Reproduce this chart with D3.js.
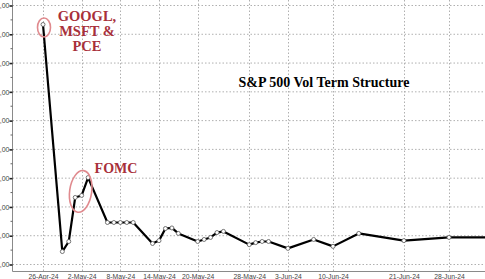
<!DOCTYPE html>
<html>
<head>
<meta charset="utf-8">
<script src="https://cdn.jsdelivr.net/npm/d3@7"></script>
<style>
  body { margin: 0; background: #fff; }
  svg { display: block; }
</style>
</head>
<body>
<div id="chart"></div>
<script>
/* global d3 */

// expiry dates (UTC) and the vol read at each
var expiries = [
  '2024-04-26', '2024-04-29', '2024-04-30', '2024-05-01', '2024-05-02', '2024-05-03',
  '2024-05-06', '2024-05-07', '2024-05-08', '2024-05-09', '2024-05-10',
  '2024-05-13', '2024-05-14', '2024-05-15', '2024-05-16', '2024-05-17',
  '2024-05-20', '2024-05-21', '2024-05-22', '2024-05-23', '2024-05-24',
  '2024-05-28', '2024-05-29', '2024-05-30', '2024-05-31',
  '2024-06-03', '2024-06-07', '2024-06-10', '2024-06-14',
  '2024-06-21', '2024-06-28', '2024-07-05'
];
var vols = [
  18.34, 10.45, 10.80, 12.33, 12.40, 13.02,
  11.46, 11.46, 11.46, 11.46, 11.46,
  10.73, 10.83, 11.25, 11.27, 11.08,
  10.80, 10.87, 10.94, 11.11, 11.15,
  10.69, 10.76, 10.80, 10.80,
  10.56, 10.87, 10.63, 11.08,
  10.83, 10.94, 10.94
];
var xTickDates = [
  '2024-04-26', '2024-05-02', '2024-05-08', '2024-05-14', '2024-05-20',
  '2024-05-28', '2024-06-03', '2024-06-10', '2024-06-21', '2024-06-28'
];
var yTicks = [10, 11, 12, 13, 14, 15, 16, 17, 18, 19];

var WIDTH = 485;
var HEIGHT = 279;
var AXIS_X = 12.5;
var AXIS_Y = 271.5;
var RED = '#a8303a';

var parse = d3.utcParse('%Y-%m-%d');
var fmtDate = d3.utcFormat('%-d-%b-%y');

var points = expiries.map(function(d, i) {
  return { date: parse(d), vol: vols[i] };
});

var x = d3.scaleUtc()
  .domain([parse('2024-04-26'), parse('2024-06-28')])
  .range([43, 449]);

var y = d3.scaleLinear()
  .domain([10, 19])
  .range([264.5, 5.5]);

var svg = d3.select('#chart')
  .append('svg')
  .attr('width', WIDTH)
  .attr('height', HEIGHT)
  .style('font-family', 'Liberation Sans, Arial, sans-serif');

svg.append('clipPath').attr('id', 'plot-clip')
  .append('rect')
    .attr('x', AXIS_X)
    .attr('y', 0)
    .attr('width', WIDTH - AXIS_X)
    .attr('height', AXIS_Y);

// dotted grid
var grid = svg.append('g').attr('class', 'grid')
  .attr('stroke', '#b0b0b0')
  .attr('stroke-dasharray', '1.5,2');

grid.selectAll('.hgrid').data(yTicks).enter()
  .append('line').classed('hgrid', true)
    .attr('x1', AXIS_X).attr('x2', WIDTH)
    .attr('y1', function(d) { return y(d); })
    .attr('y2', function(d) { return y(d); });

grid.selectAll('.vgrid').data(xTickDates).enter()
  .append('line').classed('vgrid', true)
    .attr('x1', function(d) { return Math.round(x(parse(d))) + 0.5; })
    .attr('x2', function(d) { return Math.round(x(parse(d))) + 0.5; })
    .attr('y1', 0).attr('y2', AXIS_Y);

// y axis: the chart is cropped, only the decimals of the labels show
var yAxis = d3.axisLeft(y)
  .tickValues(yTicks)
  .tickSize(3)
  .tickPadding(0)
  .tickFormat(function(d) { return d3.format('.2f')(d).replace('.', ','); });

var yg = svg.append('g')
  .attr('transform', 'translate(' + AXIS_X + ',0)')
  .call(yAxis);
yg.select('.domain').attr('stroke', '#8a8a8a').attr('d', 'M0,0V' + AXIS_Y);
yg.selectAll('.tick line').attr('stroke', '#222').attr('stroke-width', 1.6);
yg.selectAll('.tick text').attr('font-size', 7).attr('fill', '#444');

// minor ticks halfway between the majors
svg.append('g')
  .selectAll('line')
  .data(yTicks.slice(0, -1))
  .enter().append('line')
    .attr('x1', AXIS_X - 2).attr('x2', AXIS_X)
    .attr('y1', function(d) { return y(d + 0.5); })
    .attr('y2', function(d) { return y(d + 0.5); })
    .attr('stroke', '#666');

// x axis
var xAxis = d3.axisBottom(x)
  .tickValues(xTickDates.map(parse))
  .tickSize(0)
  .tickPadding(3)
  .tickFormat(fmtDate);

var xg = svg.append('g')
  .attr('transform', 'translate(0,' + AXIS_Y + ')')
  .call(xAxis);
xg.select('.domain').attr('stroke', '#8a8a8a').attr('d', 'M' + AXIS_X + ',0H' + WIDTH);
xg.selectAll('.tick text').attr('font-size', 6.8).attr('fill', '#444');

// the term structure line
var plot = svg.append('g').attr('clip-path', 'url(#plot-clip)');

var line = d3.line()
  .x(function(d) { return x(d.date); })
  .y(function(d) { return y(d.vol); });

plot.append('path')
  .datum(points)
  .attr('fill', 'none')
  .attr('stroke', '#000')
  .attr('stroke-width', 2.2)
  .attr('stroke-linejoin', 'round')
  .attr('d', line);

plot.selectAll('.pt')
  .data(points.slice(0, -1))
  .enter().append('circle').classed('pt', true)
    .attr('cx', function(d) { return x(d.date); })
    .attr('cy', function(d) { return y(d.vol); })
    .attr('r', 2)
    .attr('fill', '#fff')
    .attr('stroke', '#555')
    .attr('stroke-width', 0.8);

// annotations
var first = points[0];
var fomc = points[4];

svg.append('ellipse')
  .attr('cx', x(first.date) + 1)
  .attr('cy', y(first.vol) + 3)
  .attr('rx', 6.5)
  .attr('ry', 9.5)
  .attr('fill', 'none')
  .attr('stroke', '#e08a8e')
  .attr('stroke-width', 1.6);

svg.append('ellipse')
  .attr('transform', 'translate(' + (x(fomc.date) - 1) + ',' + (y(fomc.vol) - 4) + ') rotate(8)')
  .attr('rx', 11)
  .attr('ry', 21)
  .attr('fill', 'none')
  .attr('stroke', '#e08a8e')
  .attr('stroke-width', 1.6);

var serif = 'Liberation Serif, Times New Roman, serif';

var notes = svg.append('g')
  .attr('font-family', serif)
  .attr('font-weight', 'bold')
  .attr('fill', RED)
  .attr('text-anchor', 'middle')
  .attr('font-size', 14.5);

['GOOGL,', 'MSFT &', 'PCE'].forEach(function(t, i) {
  notes.append('text')
    .attr('x', 87)
    .attr('y', 21 + i * 15)
    .text(t);
});

notes.append('text')
  .attr('x', 116)
  .attr('y', 173)
  .attr('font-size', 14)
  .text('FOMC');

svg.append('text')
  .attr('x', 324)
  .attr('y', 87)
  .attr('text-anchor', 'middle')
  .attr('font-family', serif)
  .attr('font-weight', 'bold')
  .attr('font-size', 14)
  .attr('fill', '#000')
  .text('S&P 500 Vol Term Structure');
</script>
</body>
</html>
